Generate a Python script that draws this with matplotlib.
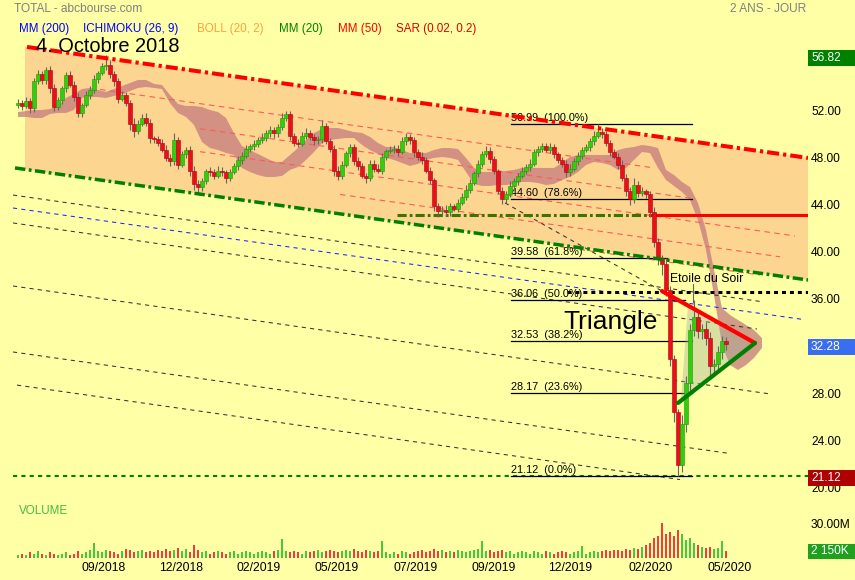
import numpy as np
import matplotlib
matplotlib.use("Agg")
import matplotlib.pyplot as plt
from matplotlib.transforms import blended_transform_factory, offset_copy
from matplotlib.patches import Rectangle, Polygon

plt.rcParams['font.family'] = ['Liberation Sans', 'DejaVu Sans']

# ---------------- data ----------------
first_open = 52.6
closes = [
    52.8, 52.5, 52.9, 52.3, 54.6, 55.2, 54.7, 55.6, 54.0, 52.4,
    53.0, 54.0, 55.1, 54.3, 53.3, 51.9, 52.6, 53.4, 53.9, 54.8,
    55.3, 55.9, 56.0, 55.2, 54.6, 53.1, 53.4, 52.8, 51.0, 50.4,
    51.0, 51.5, 51.1, 49.8, 49.7, 49.4, 48.8, 48.1, 47.8, 49.6,
    47.5, 48.4, 48.8, 47.0, 45.9, 45.6, 46.1, 47.0, 46.9, 46.6,
    47.0, 46.9, 46.4, 46.9, 47.4, 47.9, 48.3, 48.9, 49.1, 49.3,
    49.6, 49.8, 50.2, 50.5, 50.2, 50.7, 51.5, 51.8, 50.0, 49.4,
    49.3, 50.0, 50.2, 49.9, 49.6, 49.7, 50.8, 49.5, 48.9, 47.0,
    46.6, 47.5, 48.5, 49.0, 47.8, 47.4, 46.6, 46.4, 47.6, 47.2,
    47.0, 48.2, 48.7, 48.8, 48.9, 48.6, 49.5, 49.9, 49.6, 48.6,
    48.2, 47.9, 47.0, 46.2, 44.0, 43.6, 43.7, 43.5, 44.0, 43.8,
    44.3, 44.8, 45.4, 46.0, 46.8, 47.6, 48.4, 48.7, 48.0, 47.0,
    45.3, 44.6, 45.0, 45.7, 46.1, 46.6, 47.0, 47.3, 47.6, 48.6,
    48.9, 49.1, 48.8, 49.0, 48.4, 47.9, 47.6, 46.9, 47.2, 47.8,
    48.3, 48.8, 49.0, 49.5, 50.0, 50.3, 50.1, 49.4, 48.6, 48.2,
    47.5, 46.4, 45.3, 44.6, 45.8, 45.1, 45.3, 45.0, 43.5, 41.0,
    39.6, 39.1, 36.9, 31.0, 26.5, 22.0, 25.5, 29.0, 33.5, 34.6,
    33.4, 33.6, 32.8, 30.4, 30.6, 31.6, 32.6, 32.28,
]
wick_up = [
    0.3, 0.2, 0.4, 0.3, 0.3, 0.4, 0.3, 0.2, 0.3, 0.4,
    0.3, 0.2, 0.3, 0.4, 0.3, 0.3, 0.2, 0.4, 0.3, 0.3,
    0.2, 0.3, 0.8, 0.4, 0.3, 0.3, 0.4, 0.3, 0.2, 0.5,
    0.3, 0.3, 0.4, 0.3, 0.2, 0.3, 0.3, 0.4, 0.3, 0.6,
    0.3, 0.3, 0.2, 0.3, 0.4, 0.3, 0.3, 0.2, 0.3, 0.3,
    0.4, 0.3, 0.2, 0.3, 0.3, 0.4, 0.3, 0.3, 0.2, 0.3,
    0.3, 0.4, 0.3, 0.3, 0.2, 0.3, 0.4, 0.3, 0.3, 0.2,
    0.3, 0.3, 0.4, 0.3, 0.2, 0.3, 0.5, 0.3, 0.3, 0.3,
    0.4, 0.3, 0.2, 0.3, 0.3, 0.4, 0.3, 0.2, 0.3, 0.3,
    0.4, 0.3, 0.2, 0.3, 0.3, 0.3, 0.4, 0.3, 0.2, 0.3,
    0.3, 0.4, 0.3, 0.3, 0.2, 0.3, 0.3, 0.4, 0.3, 0.2,
    0.3, 0.3, 0.4, 0.3, 0.2, 0.3, 0.3, 0.4, 0.3, 0.3,
    0.2, 0.3, 0.3, 0.4, 0.3, 0.2, 0.3, 0.3, 0.4, 0.3,
    0.2, 0.3, 0.3, 0.4, 0.3, 0.2, 0.3, 0.3, 0.4, 0.3,
    0.3, 0.2, 0.3, 0.3, 0.4, 0.7, 0.3, 0.3, 0.2, 0.3,
    0.3, 0.4, 0.3, 0.3, 0.6, 0.3, 0.3, 0.2, 0.3, 0.4,
    0.3, 0.3, 0.5, 0.3, 0.4, 0.3, 0.8, 0.6, 0.5, 1.4,
    0.5, 0.4, 0.6, 0.5, 0.4, 0.5, 0.4, 0.3,
]
wick_dn = [
    0.3, 0.3, 0.2, 0.4, 0.3, 0.2, 0.3, 0.3, 0.4, 0.3,
    0.2, 0.3, 0.3, 0.2, 0.4, 0.3, 0.3, 0.2, 0.3, 0.3,
    0.3, 0.2, 0.3, 0.3, 0.4, 0.3, 0.2, 0.3, 0.5, 0.5,
    0.3, 0.2, 0.3, 0.4, 0.3, 0.3, 0.2, 0.3, 0.4, 0.3,
    0.3, 0.2, 0.3, 0.4, 0.5, 0.4, 0.3, 0.2, 0.3, 0.3,
    0.2, 0.3, 0.4, 0.3, 0.2, 0.3, 0.3, 0.2, 0.3, 0.3,
    0.3, 0.2, 0.3, 0.3, 0.4, 0.3, 0.2, 0.3, 0.4, 0.3,
    0.3, 0.2, 0.3, 0.3, 0.4, 0.3, 0.3, 0.2, 0.3, 0.4,
    0.4, 0.3, 0.2, 0.3, 0.3, 0.3, 0.2, 0.4, 0.3, 0.3,
    0.2, 0.3, 0.3, 0.2, 0.3, 0.3, 0.2, 0.3, 0.3, 0.4,
    0.3, 0.3, 0.2, 0.3, 0.4, 0.5, 0.4, 0.3, 0.3, 0.2,
    0.3, 0.2, 0.3, 0.3, 0.2, 0.3, 0.3, 0.2, 0.3, 0.3,
    0.3, 0.4, 0.3, 0.2, 0.3, 0.3, 0.2, 0.3, 0.3, 0.2,
    0.3, 0.3, 0.2, 0.3, 0.3, 0.2, 0.3, 0.4, 0.3, 0.2,
    0.3, 0.3, 0.2, 0.3, 0.3, 0.2, 0.3, 0.3, 0.3, 0.2,
    0.3, 0.3, 0.4, 0.5, 0.3, 0.3, 0.2, 0.3, 0.4, 0.5,
    0.6, 0.9, 0.5, 0.6, 0.8, 0.88, 0.6, 0.7, 0.8, 0.5,
    0.6, 0.7, 0.6, 0.8, 0.7, 0.5, 0.6, 0.5,
]
volumes = [  # millions
    3, 4, 3, 5, 4, 6, 4, 3, 5, 4,
    3, 4, 5, 3, 4, 6, 4, 5, 7, 14,
    6, 5, 7, 6, 5, 4, 6, 8, 7, 5,
    6, 7, 5, 6, 5, 7, 6, 8, 6, 7,
    9, 6, 8, 5, 12, 7, 5, 6, 4, 5,
    6, 5, 4, 5, 6, 4, 5, 6, 5, 4,
    5, 6, 5, 4, 6, 7, 17, 6, 5, 6,
    5, 4, 6, 5, 6, 7, 5, 6, 7, 6,
    5, 6, 7, 6, 8, 6, 5, 7, 6, 5,
    6, 15, 5, 4, 5, 4, 6, 5, 4, 5,
    6, 7, 5, 6, 8, 6, 7, 5, 6, 5,
    7, 6, 5, 6, 7, 8, 15, 6, 7, 5,
    6, 7, 5, 6, 4, 5, 6, 5, 4, 6,
    5, 4, 6, 5, 4, 5, 6, 5, 4, 5,
    6, 11, 4, 5, 6, 5, 6, 7, 6, 7,
    7, 6, 8, 7, 9, 8, 10, 12, 14, 18,
    20, 32, 22, 24, 20, 25, 22, 16, 18, 14,
    12, 10, 9, 10, 8, 9, 15, 6,
]
# Ichimoku cloud edges, one value every 2 bars
cloud_top = [
    52.00, 52.08, 52.17, 52.17, 52.25, 52.51, 53.19, 53.53, 53.95, 54.04,
    53.87, 53.70, 53.95, 54.21, 54.46, 54.72, 54.72, 54.38, 54.29, 53.44,
    52.68, 52.51, 52.51, 52.42, 52.17, 52.00, 51.49, 50.22, 49.11, 48.77,
    48.43, 48.10, 47.76, 47.76, 48.35, 48.94, 49.62, 50.22, 50.56, 50.64,
    50.64, 50.47, 50.30, 50.22, 49.88, 49.37, 49.03, 49.03, 48.77, 48.52,
    48.52, 48.52, 48.77, 48.94, 48.94, 48.86, 48.10, 47.25, 46.91, 46.91,
    46.91, 47.00, 47.08, 47.25, 47.25, 47.25, 47.25, 47.25, 47.67, 48.18,
    48.35, 48.35, 48.35, 48.35, 48.35, 48.77, 48.94, 49.03, 49.20, 49.11,
    48.94, 47.08, 46.65, 46.06, 45.63, 44.28, 41.98, 38.59, 35.36, 34.77,
    34.34, 33.92, 33.49, 32.81,
]
cloud_bot = [
    51.58, 51.58, 51.49, 51.49, 51.83, 51.92, 51.92, 52.17, 53.19, 53.27,
    53.27, 53.19, 53.36, 53.53, 53.78, 54.04, 54.12, 54.04, 53.95, 52.76,
    51.92, 51.58, 50.90, 49.45, 48.94, 48.77, 48.52, 48.35, 47.25, 46.91,
    46.65, 46.48, 46.48, 46.57, 47.08, 47.33, 47.93, 48.60, 49.37, 49.62,
    49.71, 49.79, 49.79, 49.20, 48.77, 48.43, 48.10, 47.93, 47.67, 47.42,
    47.59, 47.93, 48.10, 48.18, 48.10, 47.93, 46.91, 45.89, 45.72, 45.72,
    45.80, 45.80, 45.89, 46.06, 46.06, 45.97, 45.80, 45.89, 46.23, 46.48,
    46.91, 47.50, 47.76, 47.67, 47.50, 47.08, 47.25, 47.93, 48.60, 48.52,
    47.25, 46.23, 45.72, 45.21, 44.53, 42.83, 40.29, 36.47, 32.22, 30.52,
    30.10, 30.52, 31.12, 31.97,
]

month_labels = ['09/2018', '12/2018', '02/2019', '05/2019', '07/2019',
                '09/2019', '12/2019', '02/2020', '05/2020']
month_pos = [21.4, 40.9, 60.25, 79.75, 99.4, 118.9, 138.0, 158.1, 177.9]

price_ticks = [56, 52, 48, 44, 40, 36, 32, 28, 24, 20]
high_price, last_price, low_price = 56.82, 32.28, 21.12

fib_prices = [50.99, 44.60, 39.58, 36.06, 32.53, 28.17, 21.12]
fib_pcts = ['100.0%', '78.6%', '61.8%', '50.0%', '38.2%', '23.6%', '0.0%']
fib_start = 123.25
fib_end = [168.5, 168.5, 162.25, 166.75, 168.5, 168.5, 168.5]

channel_top = [(2.25, 57.52), (197.5, 48.10)]
channel_bot = [(-0.75, 47.25), (197.5, 37.74)]
inner_red = [
    [(20.5, 53.91), (158.0, 47.30)],
    [(45.5, 50.58), (168.0, 44.69)],
    [(45.5, 48.63), (194.25, 41.48)],
    [(80.5, 45.00), (190.5, 39.71)],
    [(135.5, 40.57), (185.5, 38.16)],
]
parallel_black = [
    [(-1.25, 44.95), (185.5, 35.92)],
    [(-1.25, 42.58), (184.75, 33.58)],
    [(-1.25, 37.23), (188.0, 28.07)],
    [(-1.25, 31.63), (178.0, 23.01)],
    [(-0.25, 28.82), (165.5, 20.80)],
    [(121.75, 44.28), (161.0, 36.80)],
]
parallel_blue = [(-1.25, 43.85), (196.25, 34.39)]
support_line = [(-1.25, 21.12), (197.5, 21.12)]
resist_level = 43.26
resist_green = (94.75, 158.0)
resist_red = (158.0, 197.5)
neck_level = 36.72
neck_span = (137.25, 197.5)
tri_upper = [(161.0, 36.80), (184.25, 32.39)]
tri_lower = [(165.0, 27.30), (184.25, 32.39)]
tri_fill = [(167.5, 35.62), (165.75, 27.64), (184.25, 32.39)]
star_pointer = [(168.75, 37.40), (168.75, 35.87)]

# ---------------- figure ----------------
W, H = 855, 580
BG = '#FFFFA5'
fig = plt.figure(figsize=(W / 100, H / 100), dpi=100, facecolor=BG)


def fx(px):
    return px / W


def fy(py):
    return 1 - py / H


ax = fig.add_axes([0, fy(497), fx(808), (497 - 40) / H])
ax.set_xlim(-4.5, 197.5)
ax.set_ylim(19.32, 58.11)
ax.axis('off')


def line_at(pts, xq):
    (x0, y0), (x1, y1) = pts
    return y0 + (y1 - y0) * (xq - x0) / (x1 - x0)


# channel fill
xl, xr = 1.75, 197.5
poly = [(xl, line_at(channel_top, xl)), (xr, line_at(channel_top, xr)),
        (xr, line_at(channel_bot, xr)), (xl, line_at(channel_bot, xl))]
ax.add_patch(Polygon(poly, closed=True, facecolor='#FCD690',
                     edgecolor='none', zorder=1))

# ichimoku cloud
cx = np.arange(0, 2 * len(cloud_top), 2)
ax.fill_between(cx, cloud_bot, cloud_top, facecolor='#C47A7E', alpha=0.75,
                linewidth=0, zorder=2)

# inner red dashed lines
for seg in inner_red:
    xs, ys = zip(*seg)
    ax.plot(xs, ys, color='#FF5A5A', lw=0.8, ls=(0, (5, 4)), zorder=3)
for seg in parallel_black:
    xs, ys = zip(*seg)
    ax.plot(xs, ys, color='#333333', lw=0.75, ls=(0, (4, 4)), zorder=3)
xs, ys = zip(*parallel_blue)
ax.plot(xs, ys, color='#2020FF', lw=0.75, ls=(0, (4, 4)), zorder=3)
xs, ys = zip(*support_line)
ax.plot(xs, ys, color='#008000', lw=1.5, ls=(0, (2, 2)), zorder=3)

# horizontal levels
ax.plot(resist_green, [resist_level] * 2, color='#3F7300', lw=2.2,
        ls=(0, (3, 1, 0.9, 1)), zorder=3.5)
ax.plot(resist_red, [resist_level] * 2, color='#FF0000', lw=2.2, zorder=3.5)
ax.plot(neck_span, [neck_level] * 2, color='#000000', lw=2.2,
        ls=(0, (1.3, 1.3)), zorder=3.5)

# fibonacci retracements
for p, pct, xe in zip(fib_prices, fib_pcts, fib_end):
    ax.plot([fib_start, xe], [p, p], color='black', lw=0.9, zorder=4)
    ax.text(fib_start, p + 0.08, f'{p:.2f}  ({pct})', fontsize=7.8,
            ha='left', va='bottom', zorder=4)

# triangle fill
ax.add_patch(Polygon(tri_fill, closed=True, facecolor='#9FAF9A', alpha=0.4,
                     edgecolor='none', zorder=4.5))

# candles
n = len(closes)
x = np.arange(n)
opens = [first_open] + closes[:-1]
o = np.array(opens)
c = np.array(closes)
up = c >= o
highs = np.maximum(o, c) + np.array(wick_up)
lows = np.minimum(o, c) - np.array(wick_dn)
ax.vlines(x, lows, highs, color='#666666', lw=0.8, zorder=4.9)
body_bot = np.minimum(o, c)
body_h = np.maximum(np.abs(c - o), 0.1)
ax.bar(x, body_h, bottom=body_bot, width=0.78,
       color=np.where(up, '#33CC11', '#E8101A'),
       edgecolor=np.where(up, '#229900', '#B00010'), linewidth=0.4, zorder=5)

# channel borders
xs, ys = zip(*channel_top)
ax.plot(xs, ys, color='#FF0000', lw=2.9, ls=(0, (3, 1, 0.8, 1)), zorder=6)
xs, ys = zip(*channel_bot)
ax.plot(xs, ys, color='#008000', lw=2.5, ls=(0, (3, 1, 0.8, 1)), zorder=6)

# triangle lines
xs, ys = zip(*tri_upper)
ax.plot(xs, ys, color='#FF0000', lw=3.0, solid_capstyle='round', zorder=7)
xs, ys = zip(*tri_lower)
ax.plot(xs, ys, color='#008000', lw=3.0, solid_capstyle='round', zorder=7)
xs, ys = zip(*star_pointer)
ax.plot(xs, ys, color='#666666', lw=0.8, zorder=7)

ax.text(136.25, 33.62, 'Triangle', fontsize=19.0, ha='left',
        va='baseline', zorder=8)
ax.text(163.0, 37.57, 'Etoile du Soir', fontsize=8.8, ha='left',
        va='baseline', zorder=8)

# right price axis labels (the ones hidden behind a value box are skipped)
trans = blended_transform_factory(fig.transFigure, ax.transData)
box_prices = [(high_price, '#008000'), (last_price, '#3A6EF0'),
              (low_price, '#B00000')]
for p in price_ticks:
    if any(abs(p - bp) < 0.9 for bp, _ in box_prices):
        continue
    ax.text(fx(811), p, f'{p:.2f}', transform=trans, fontsize=8.6,
            ha='left', va='center', clip_on=False, zorder=9)
box_trans = offset_copy(trans, fig=fig, y=-2.5, units='dots')
for p, col in box_prices:
    ax.add_patch(Rectangle((fx(808), p - 0.68), fx(47), 1.36,
                           transform=box_trans, facecolor=col,
                           edgecolor='none', clip_on=False, zorder=10))
    ax.text(fx(811), p, f'{p:.2f}', transform=box_trans, fontsize=8.6,
            color='white', ha='left', va='center', clip_on=False, zorder=11)

# ---------------- volume panel ----------------
axv = fig.add_axes([0, fy(558), fx(808), 58 / H])
axv.set_xlim(-4.5, 197.5)
axv.set_ylim(0, 52.7)
axv.patch.set_visible(False)
for s in axv.spines.values():
    s.set_visible(False)
axv.bar(x, volumes, width=0.5, color=np.where(up, '#44C83C', '#F03C3C'),
        linewidth=0)
axv.set_yticks([])
axv.set_xticks(month_pos)
axv.set_xticklabels(month_labels, fontsize=8.7)
axv.tick_params(axis='x', length=0, pad=3)

fig.text(fx(811), fy(525), '30.00M', fontsize=8.6, ha='left', va='center')
fig.patches.append(Rectangle((fx(808), fy(559)), fx(47), 15 / H,
                             transform=fig.transFigure, facecolor='#1FA01F',
                             edgecolor='none'))
fig.text(fx(811), fy(551.5), '2 150K', fontsize=8.6, color='white',
         ha='left', va='center')
fig.text(fx(19), fy(511), 'VOLUME', fontsize=8.4, color='#44BB44',
         ha='left', va='center')

# ---------------- header ----------------
fig.text(fx(14), fy(8.5), 'TOTAL - abcbourse.com', fontsize=8.6,
         color='#808080', ha='left', va='center')
fig.text(fx(806), fy(8.5), '2 ANS - JOUR', fontsize=8.6, color='#808080',
         ha='right', va='center')
legend_items = [('MM (200)', 19, '#0000FF'), ('ICHIMOKU (26, 9)', 83, '#0000FF'),
                ('BOLL (20, 2)', 197, '#FFA040'), ('MM (20)', 279, '#008000'),
                ('MM (50)', 338, '#FF0000'), ('SAR (0.02, 0.2)', 396, '#DD0000')]
for label, px, col in legend_items:
    fig.text(fx(px), fy(29), label, fontsize=8.4, color=col, ha='left',
             va='center')
fig.text(fx(36), fy(47), '4. Octobre 2018', fontsize=14.4, color='black',
         ha='left', va='center', zorder=10)

fig.savefig('out.png', dpi=100, facecolor=BG)
